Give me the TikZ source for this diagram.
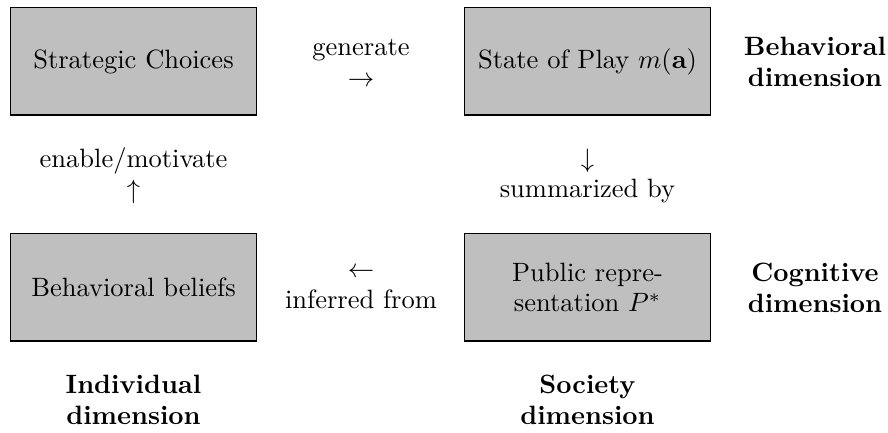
\documentclass[tikz,border=0pt]{standalone}
\begin{document}
\begin{tikzpicture}[x=0.3774pt,y=-0.3774pt,
  every node/.style={font=\fontsize{10}{11.6}\selectfont},
  box/.style={draw=black, line width=0.4pt, fill=black!25, minimum width=92.5pt, minimum height=40.4pt, inner sep=0pt, align=center},
  lbl/.style={align=center, inner sep=0pt},
  dimlbl/.style={align=center, inner sep=0pt, font=\fontsize{10}{11.6}\selectfont\bfseries}]
\useasboundingbox (0,0) rectangle (888,433);
\node[box] (sc) at (133.5,61.5) {Strategic Choices};
\node[box] (sp) at (587.5,61.5) {State of Play $m(\mathbf{a})$};
\node[box] (bb) at (133.5,287.5) {Behavioral beliefs};
\node[box] (pr) at (587.5,287.5) {Public repre-\\sentation $P^*$};
\node[lbl] (gen) at (361,63) {generate\\$\rightarrow$};
\node[lbl] (enm) at (133.5,176) {enable/motivate\\$\uparrow$};
\node[lbl] (sum) at (587.5,176) {$\downarrow$\\summarized by};
\node[lbl] (inf) at (361,288) {$\leftarrow$\\inferred from};
\node[dimlbl] (bd) at (815,62) {Behavioral\\dimension};
\node[dimlbl] (cd) at (815,288) {Cognitive\\dimension};
\node[dimlbl] (id) at (133.5,400) {Individual\\dimension};
\node[dimlbl] (sd) at (587.5,400) {Society\\dimension};
\end{tikzpicture}
\end{document}
